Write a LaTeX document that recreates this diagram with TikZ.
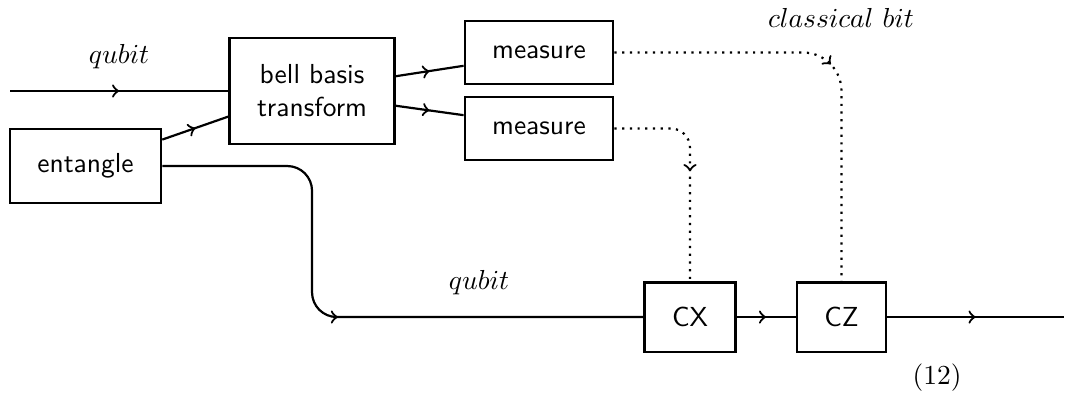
\documentclass[tikz,border=0pt]{standalone}
\usepackage{amsmath}
\usepackage{tikz}
\usetikzlibrary{decorations.markings}
\tikzstyle{circuit} = [y = -1cm]
\tikzstyle{gateStyle} = [draw, thick, font=\sffamily, align=center, inner xsep=10pt, inner ysep=9pt]
\tikzstyle{midArrow} = [postaction={decorate}, decoration={markings, mark=at position 0.5 with {\arrow{>}}}]
\tikzstyle{quantumWire} = [thick, midArrow]
\tikzstyle{classicalWire} = [thick, dotted, midArrow]

\begin{document}
\begin{tikzpicture}[circuit]
  \useasboundingbox (0,0) rectangle (13.612,5.061);
  % gates
  \node [gateStyle, minimum height=38.5pt] (bell) at (3.988,1.163) {bell basis\\transform};
  \node [gateStyle] (entangle) at (1.093,2.122) {entangle};
  \node [gateStyle] (measureA) at (6.889,0.671) {measure};
  \node [gateStyle] (measureB) at (6.889,1.642) {measure};
  \node [gateStyle] (cx) at (8.819,4.052) {CX};
  \node [gateStyle] (cz) at (10.755,4.052) {CZ};
  \coordinate (in) at (0.128,1.163);
  \coordinate (out) at (13.6,4.052);

  % labels
  \node (qubitIn) at (1.521,0.729) {$qubit$};
  \node (qubitOut) at (6.122,3.617) {$qubit$};
  \node (classicalBit) at (10.749,0.224) {$classical\ bit$};
  \node (eqNumber) at (11.976,4.831) {(12)};

  % quantum wires
  \draw [quantumWire] (in) -- (bell.west);
  \draw [quantumWire] (entangle.19) -- (bell.197);
  \draw [quantumWire] (bell.10) -- (measureA.190);
  \draw [quantumWire] (bell.-10) -- (measureB.170);
  \draw [quantumWire, rounded corners=9pt] (entangle.east) -| (bell.center |- cx.west) -- (cx.west);
  \draw [quantumWire] (cx.east) -- (cz.west);
  \draw [quantumWire] (cz.east) -- (out);

  % classical wires
  \draw [classicalWire, rounded corners=14pt] (measureA.east) -| (cz.north);
  \draw [classicalWire, rounded corners=7pt] (measureB.east) -| (cx.north);
\end{tikzpicture}
\end{document}
